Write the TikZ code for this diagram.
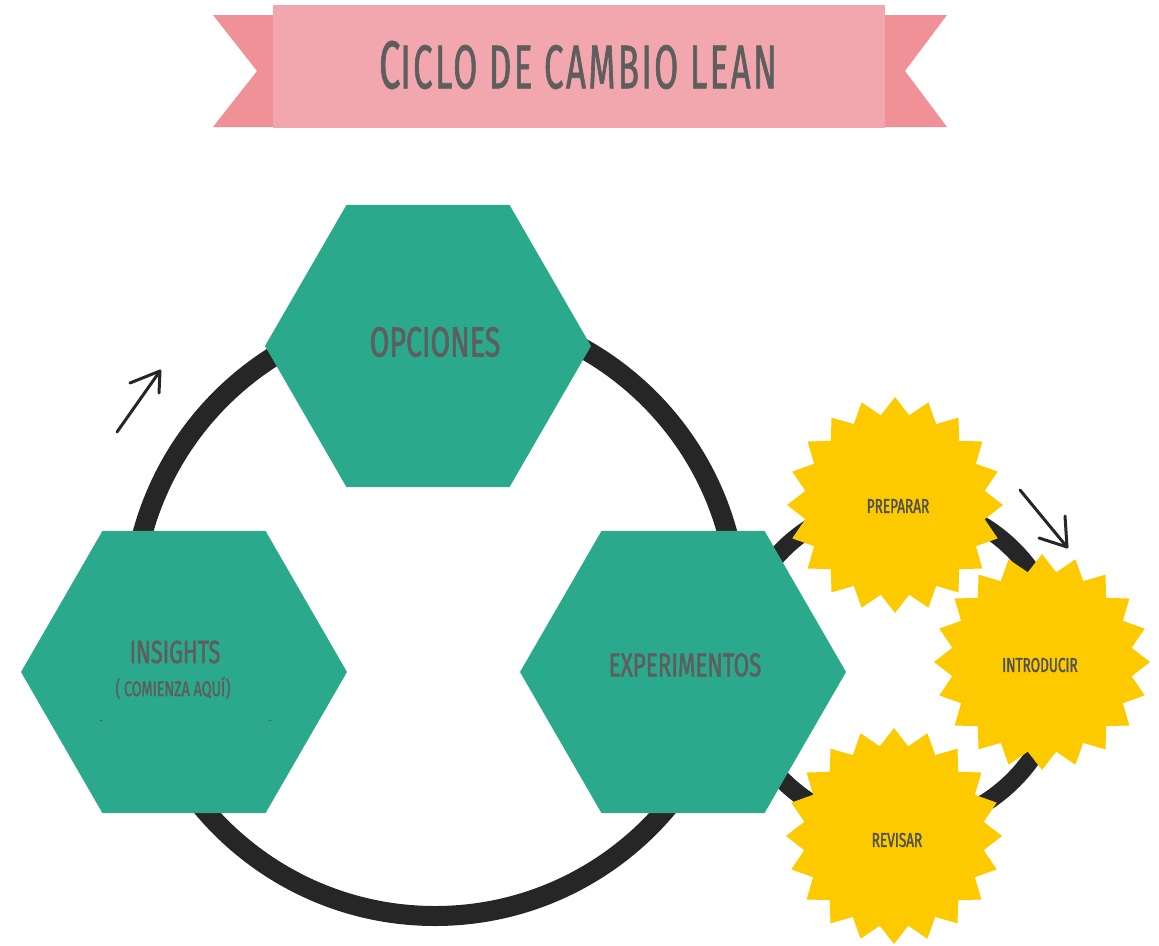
\documentclass[tikz,border=0pt]{standalone}
\usepackage{fontspec}
\setmainfont{Fira Sans}
\newfontfamily\hand[FakeStretch=0.68, FakeBold=1.6]{Fira Sans}
\newfontfamily\handt[FakeStretch=0.56, FakeBold=1.0, LetterSpace=4]{Fira Sans}
\usetikzlibrary{shapes.geometric}
\definecolor{hexgreen}{HTML}{2BA98C}
\definecolor{staryel}{HTML}{FDCA00}
\definecolor{ringc}{HTML}{262626}
\definecolor{bannerm}{HTML}{F2A6AD}
\definecolor{bannert}{HTML}{F09097}
\definecolor{txtgray}{HTML}{5E5E5E}
\tikzset{
  hexa/.style={regular polygon, regular polygon sides=6, minimum size=326pt, inner sep=0pt, fill=hexgreen, draw=none},
  burst/.style={star, star points=20, star point ratio=1.19, minimum size=216pt, inner sep=0pt, fill=staryel, draw=none},
  ring/.style={draw=ringc, line width=20pt},
  lbl/.style={text=txtgray, inner sep=0pt, font=\hand},
  arrowline/.style={draw=ringc, line width=3pt, line cap=round, line join=round},
}
\begin{document}
\begin{tikzpicture}[x=1pt,y=-1pt]
\useasboundingbox (0,0) rectangle (1159,945);
% banner
\fill[bannert] (213,15) -- (273,15) -- (273,127) -- (213,127) -- (257,71) -- cycle;
\fill[bannert] (947,15) -- (885,15) -- (885,127) -- (947,127) -- (905,71) -- cycle;
\fill[bannerm] (273,5) rectangle (885,128);
\node[lbl, font=\handt] (title) at (578,65) {{\fontsize{68}{68}\selectfont C}\fontsize{62}{62}\selectfont ICLO DE CAMBIO LEAN};
% rings
\coordinate (bigc) at (435,613);
\coordinate (smallc) at (898,665);
\draw[ring] (bigc) circle[radius=303];
\draw[ring, line width=18pt] (smallc) circle[radius=163];
% hexagons
\node[hexa] (opc) at (428,346) {};
\node[hexa] (ins) at (184,672) {};
\node[hexa] (exp) at (683,672) {};
% stars
\node[burst] (prep) at (895,505) {};
\node[burst] (intro) at (1042,662) {};
\node[burst] (rev) at (894,836) {};
% labels
\node[lbl, font=\hand\fontsize{42}{42}\selectfont] (topc) at (435,342) {OPCIONES};
\node[lbl, font=\hand\fontsize{32}{32}\selectfont] (tins) at (175,652) {INSIGHTS};
\node[lbl, font=\hand\fontsize{21}{21}\selectfont] (tcom) at (173,688) {( COMIENZA AQUÍ)};
\node[lbl, font=\hand\fontsize{12}{12}\selectfont] (d1) at (101,722) {-};
\node[lbl, font=\hand\fontsize{12}{12}\selectfont] (d2) at (270,722) {-};
\node[lbl, font=\hand\fontsize{33}{33}\selectfont] (texp) at (685,665) {EXPERIMENTOS};
\node[lbl, font=\hand\fontsize{20}{20}\selectfont, text=txtgray!85!black] (tprep) at (898,506) {PREPARAR};
\node[lbl, font=\hand\fontsize{20}{20}\selectfont, text=txtgray!85!black] (tintro) at (1040,665) {INTRODUCIR};
\node[lbl, font=\hand\fontsize{20}{20}\selectfont, text=txtgray!85!black] (trev) at (897,840) {REVISAR};
% arrows
\coordinate (a1s) at (117,432);
\coordinate (a1t) at (160,371);
\coordinate (a1w1) at (130,383);
\coordinate (a1w2) at (159,393);
\draw[arrowline] (a1s) -- (a1t);
\draw[arrowline] (a1w1) -- (a1t) -- (a1w2);
\coordinate (a2s) at (1020,490);
\coordinate (a2t) at (1067,547);
\coordinate (a2w1) at (1039,538);
\coordinate (a2w2) at (1065,516);
\draw[arrowline] (a2s) -- (a2t);
\draw[arrowline] (a2w1) -- (a2t) -- (a2w2);
\end{tikzpicture}
\end{document}
